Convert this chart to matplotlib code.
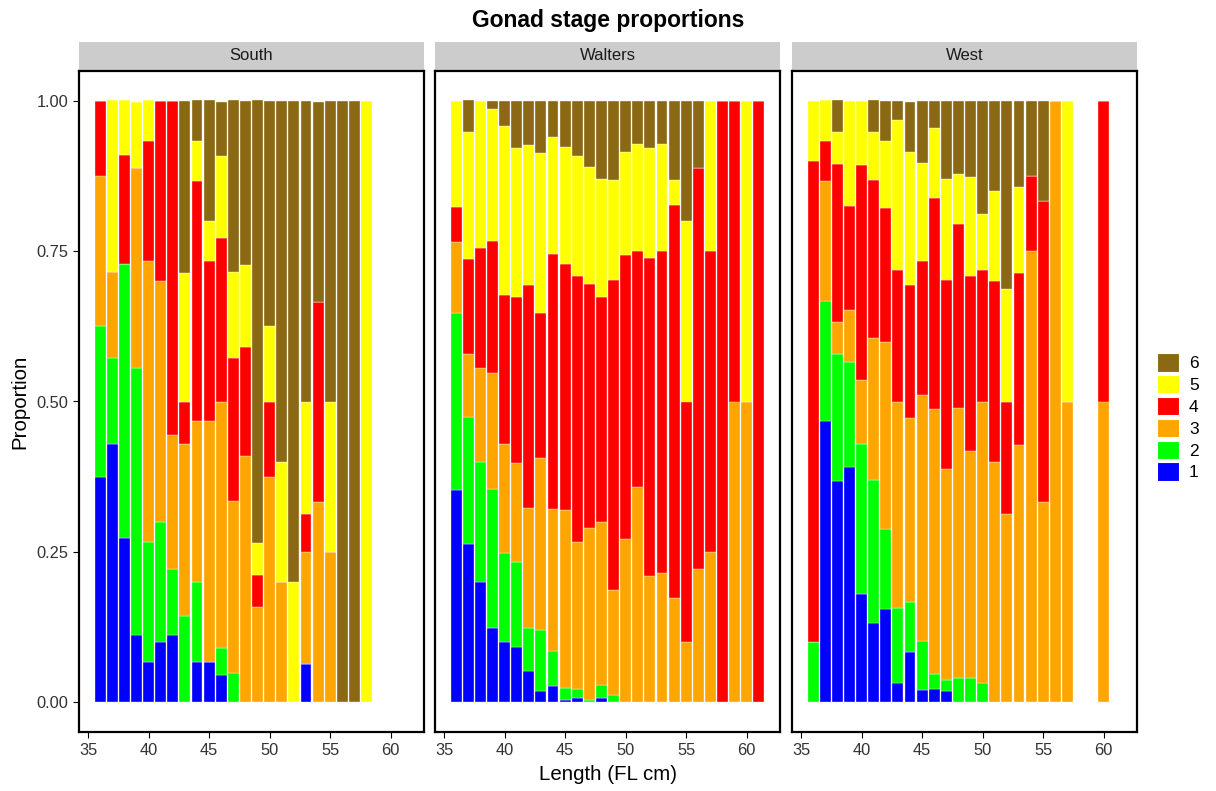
import matplotlib
matplotlib.use("Agg")
import matplotlib.pyplot as plt
from matplotlib.patches import Rectangle, Patch
import numpy as np

plt.rcParams['font.family'] = ['Liberation Sans', 'DejaVu Sans']

# stage colours, stage 1 at the bottom of each stack
stages = ['1', '2', '3', '4', '5', '6']
stage_colors = ['#0000FF', '#00FF00', '#FFA500', '#FF0000', '#FFFF00', '#8B6914']

sites = ['South', 'Walters', 'West']

# ---- South: proportion of each stage per length (stage 1..6)
south_len = [36, 37, 38, 39, 40, 41, 42, 43, 44, 45, 46, 47, 48, 49, 50, 51, 52, 53, 54, 55, 56, 57, 58]
south_p1 = [.375, .429, .273, .111, .067, .1, .111, 0, .067, .067, .045, 0, 0, 0, 0, 0, 0, .0625, 0, 0, 0, 0, 0]
south_p2 = [.25, .143, .455, .444, .2, .2, .111, .143, .133, 0, .045, .048, 0, 0, 0, 0, 0, 0, 0, 0, 0, 0, 0]
south_p3 = [.25, .143, 0, .333, .467, .4, .222, .286, .267, .4, .409, .286, .409, .158, .375, .2, 0, .1875, .333, .25, 0, 0, 0]
south_p4 = [.125, 0, .182, 0, .2, .3, .556, .071, .4, .267, .273, .238, .182, .053, .125, 0, 0, .0625, .333, 0, 0, 0, 0]
south_p5 = [0, .286, .091, .111, .067, 0, 0, .214, .067, .067, .136, .143, .136, .053, .125, .2, .2, .1875, 0, .25, 0, 0, 1]
south_p6 = [0, 0, 0, 0, 0, 0, 0, .286, .067, .2, .091, .286, .273, .737, .375, .6, .8, .5, .333, .5, 1, 1, 0]

# ---- Walters
walters_len = [36, 37, 38, 39, 40, 41, 42, 43, 44, 45, 46, 47, 48, 49, 50, 51, 52, 53, 54, 55, 56, 57, 58, 59, 60, 61]
walters_p1 = [.353, .263, .2, .123, .099, .091, .051, .018, .026, .004, .006, 0, .006, 0, 0, 0, 0, 0, 0, 0, 0, 0, 0, 0, 0, 0]
walters_p2 = [.294, .211, .2, .232, .149, .142, .072, .102, .059, .02, .016, .004, .023, .011, 0, 0, 0, 0, 0, 0, 0, 0, 0, 0, 0, 0]
walters_p3 = [.118, .105, .155, .193, .181, .164, .2, .286, .236, .295, .245, .286, .271, .175, .271, .357, .21, .214, .173, .1, .222, .25, 0, .5, .5, 0]
walters_p4 = [.059, .158, .2, .219, .249, .277, .371, .242, .424, .41, .442, .406, .374, .517, .472, .393, .528, .536, .654, .4, .667, .5, 1, .5, 0, 1]
walters_p5 = [.176, .211, .245, .22, .28, .248, .233, .265, .195, .195, .2, .195, .196, .166, .172, .179, .184, .179, .042, .3, 0, .25, 0, 0, .5, 0]
walters_p6 = [0, .053, 0, .013, .042, .078, .073, .087, .06, .076, .091, .109, .13, .131, .085, .071, .078, .071, .131, .2, .111, 0, 0, 0, 0, 0]

# ---- West
west_len = [36, 37, 38, 39, 40, 41, 42, 43, 44, 45, 46, 47, 48, 49, 50, 51, 52, 53, 54, 55, 56, 57, 60]
west_p1 = [0, .467, .368, .391, .179, .132, .155, .031, .083, .02, .022, .018, 0, 0, 0, 0, 0, 0, 0, 0, 0, 0, 0]
west_p2 = [.1, .2, .211, .174, .25, .237, .133, .125, .083, .082, .024, .018, .04, .04, .032, 0, 0, 0, 0, 0, 0, 0, 0]
west_p3 = [0, .2, .053, .087, .107, .237, .311, .344, .306, .408, .442, .352, .45, .377, .468, .4, .3125, .428, .75, .333, 1, .5, .5]
west_p4 = [.8, .067, .263, .174, .357, .263, .223, .219, .222, .224, .35, .315, .306, .292, .219, .3, .1875, .286, .125, .5, 0, 0, .5]
west_p5 = [.1, .067, .053, .174, .107, .079, .111, .25, .222, .163, .117, .167, .082, .165, .093, .15, .1875, .143, 0, 0, 0, .5, 0]
west_p6 = [0, 0, .053, 0, 0, .053, .067, .031, .083, .103, .045, .13, .122, .126, .188, .15, .3125, .143, .125, .167, 0, 0, 0]

site_data = {
    'South': (south_len, [south_p1, south_p2, south_p3, south_p4, south_p5, south_p6]),
    'Walters': (walters_len, [walters_p1, walters_p2, walters_p3, walters_p4, walters_p5, walters_p6]),
    'West': (west_len, [west_p1, west_p2, west_p3, west_p4, west_p5, west_p6]),
}

W, H = 1216, 791
fig = plt.figure(figsize=(W / 100, H / 100), dpi=100)

panel_left = [79, 435, 792]
panel_w = 345
panel_top = 71
panel_bottom = 732
strip_top = 42

for i, site in enumerate(sites):
    ax = fig.add_axes([panel_left[i] / W, 1 - panel_bottom / H,
                       panel_w / W, (panel_bottom - panel_top) / H])
    lengths, props = site_data[site]
    x = np.array(lengths)
    bottom = np.zeros(len(x))
    for k in range(6):
        vals = np.array(props[k])
        ax.bar(x, vals, bottom=bottom, width=0.9, color=stage_colors[k],
               edgecolor='white', linewidth=0.25)
        bottom += vals

    ax.set_xlim(34.25, 62.75)
    ax.set_ylim(-0.05, 1.05)
    ax.set_xticks([35, 40, 45, 50, 55, 60])
    ax.set_yticks([0, 0.25, 0.5, 0.75, 1.0])
    if i == 0:
        ax.set_yticklabels(['0.00', '0.25', '0.50', '0.75', '1.00'])
    else:
        ax.tick_params(axis='y', left=False, labelleft=False)
    ax.tick_params(axis='both', labelsize=11.8, labelcolor='#333333', color='black',
                   length=4.3, width=0.8, pad=3.5)
    for sp in ax.spines.values():
        sp.set_linewidth(1.6)
        sp.set_color('black')

    # facet strip
    ph = panel_bottom - panel_top
    s0 = 1 + 1.0 / ph
    sh = (panel_top - 1 - strip_top) / ph
    ax.add_patch(Rectangle((0, s0), 1, sh, transform=ax.transAxes,
                           facecolor='#CCCCCC', edgecolor='none', clip_on=False))
    ax.text(0.5, s0 + sh / 2, site, transform=ax.transAxes, ha='center',
            va='center', fontsize=12, color='#1A1A1A')

fig.text(608 / W, 1 - 21 / H, 'Gonad stage proportions', ha='center', va='center',
         fontsize=16.5, fontweight='bold')
fig.text(608 / W, 1 - 775 / H, 'Length (FL cm)', ha='center', va='center', fontsize=14.8)
fig.text(20 / W, 1 - 402 / H, 'Proportion', ha='center', va='center', fontsize=14.8,
         rotation=90)

handles = [Patch(facecolor=stage_colors[k], edgecolor='white', linewidth=0.8, label=stages[k])
           for k in range(5, -1, -1)]
fig.legend(handles=handles, loc='center left', bbox_to_anchor=(1157 / W, 1 - 417 / H),
           frameon=False, fontsize=12.5, handlelength=1.25, handleheight=1.25,
           handletextpad=0.6, labelspacing=0.2, borderaxespad=0, borderpad=0)

fig.savefig('out.png', dpi=100)
